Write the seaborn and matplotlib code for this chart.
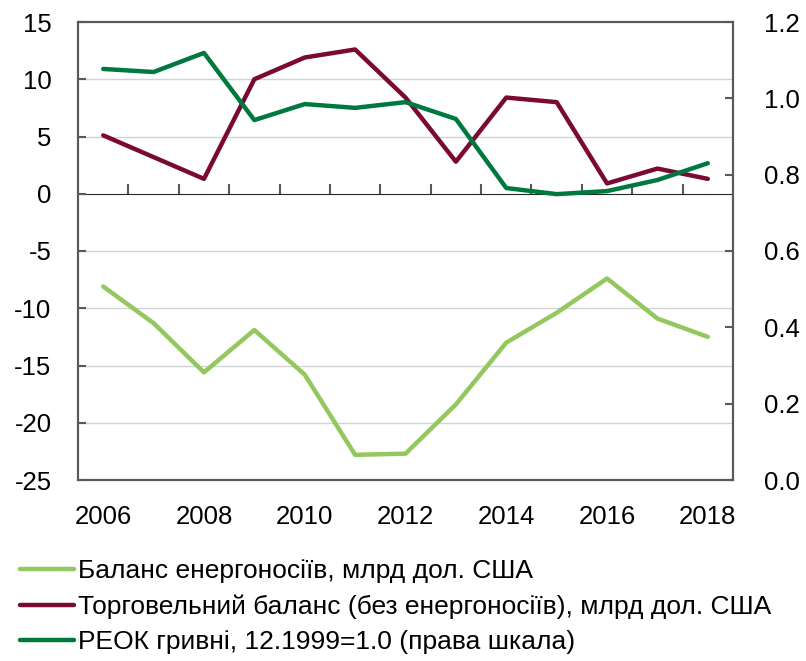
import matplotlib
matplotlib.use("Agg")
import matplotlib.pyplot as plt
import numpy as np
import pandas as pd
import seaborn as sns

YEARS = list(range(2006, 2019))

# balance of energy goods, bn USD (left axis)
ENERGY_BALANCE = [-8.1, -11.3, -15.6, -11.9, -15.8, -22.8, -22.7,
                  -18.4, -13.0, -10.4, -7.4, -10.9, -12.5]
# trade balance excluding energy, bn USD (left axis)
TRADE_BALANCE = [5.1, 3.2, 1.3, 10.0, 11.9, 12.6, 8.4,
                 2.8, 8.4, 8.0, 0.9, 2.2, 1.3]
# REER of hryvnia, 12.1999 = 1.0 (right axis)
REER = [1.077, 1.069, 1.119, 0.943, 0.985, 0.975, 0.990,
        0.946, 0.765, 0.749, 0.757, 0.786, 0.830]

LABELS = [
    "Баланс енергоносіїв, млрд дол. США",
    "Торговельний баланс (без енергоносіїв), млрд дол. США",
    "РЕОК гривні, 12.1999=1.0 (права шкала)",
]
COLORS = ["#92C85E", "#7A0A33", "#00793F"]

sns.set_style("white")
plt.rcParams["font.family"] = ["Liberation Sans", "DejaVu Sans"]
plt.rcParams["axes.unicode_minus"] = False
plt.rcParams["text.color"] = "black"
plt.rcParams["xtick.labelcolor"] = "black"
plt.rcParams["ytick.labelcolor"] = "black"

df = pd.DataFrame({
    "year": YEARS,
    "energy": ENERGY_BALANCE,
    "trade": TRADE_BALANCE,
    "reer": REER,
})

fig = plt.figure(figsize=(8.06, 6.61), dpi=100)
ax = fig.add_axes([78 / 806, 1 - 480 / 661, 655 / 806, 458 / 661])
ax2 = ax.twinx()

sns.lineplot(data=df, x="year", y="energy", ax=ax, color=COLORS[0], lw=3.2, label=LABELS[0], legend=False)
sns.lineplot(data=df, x="year", y="trade", ax=ax, color=COLORS[1], lw=3.2, label=LABELS[1], legend=False)
sns.lineplot(data=df, x="year", y="reer", ax=ax2, color=COLORS[2], lw=3.2, label=LABELS[2], legend=False)

spine_col = "#595959"
ax.set_xlim(2005.5, 2018.5)
ax.set_ylim(-25, 15)
ax2.set_ylim(0, 1.2)
ax.set_yticks(np.arange(-25, 16, 5))
ax2.set_yticks(np.arange(0, 1.21, 0.2))
ax2.set_yticklabels([f"{v:.1f}" for v in np.arange(0, 1.21, 0.2)])
ax.set_xticks(range(2006, 2019, 2))
ax.set_xlabel("")
ax.set_ylabel("")
ax2.set_ylabel("")

for g in range(-20, 15, 5):
    if g != 0:
        ax.axhline(g, color="#D0D3D6", lw=1, zorder=0)

for a in (ax, ax2):
    for s in a.spines.values():
        s.set_color(spine_col)
        s.set_linewidth(1.5)
        s.set_visible(True)

fs = 18.5
ax.tick_params(axis="y", direction="in", length=6, width=1.5, color=spine_col,
               labelsize=fs, labelcolor="black", pad=19)
ax2.tick_params(axis="y", direction="in", length=6, width=1.5, color=spine_col,
                labelsize=fs, labelcolor="black", pad=22)
ax.tick_params(axis="x", length=0, labelsize=fs, labelcolor="black", pad=18)

# zero line with year-boundary ticks (axes fraction of y=0)
zero = ax.secondary_xaxis(25 / 40)
zero.set_xticks(np.arange(2006.5, 2018.5, 1.0))
zero.set_xticklabels([])
zero.tick_params(axis="x", direction="out", length=7, width=1.5, color=spine_col)
zero.spines["bottom"].set_color(spine_col)
zero.spines["bottom"].set_linewidth(1.5)

handles = [h for h in ax.get_lines() if h.get_label() in LABELS] + \
          [h for h in ax2.get_lines() if h.get_label() in LABELS]
leg = fig.legend(handles, LABELS, loc="upper left", bbox_to_anchor=(0.012, 0.17),
                 frameon=False, fontsize=19, handlelength=2.05, handletextpad=0.15,
                 labelspacing=0.42, borderaxespad=0)
for t in leg.get_texts():
    t.set_color("black")

fig.savefig("out.png", dpi=100)
